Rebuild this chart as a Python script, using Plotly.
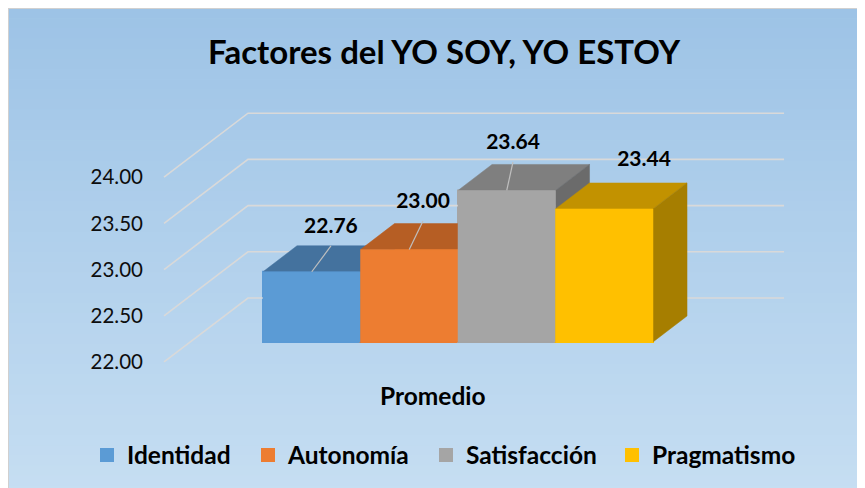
import plotly.graph_objects as go

# ---------------- data ----------------
chart_title = "Factores del YO SOY, YO ESTOY"
category = "Promedio"
series = ["Identidad", "Autonomía", "Satisfacción", "Pragmatismo"]
values = [22.76, 23.00, 23.64, 23.44]
value_labels = ["22.76", "23.00", "23.64", "23.44"]
tick_values = [22.0, 22.5, 23.0, 23.5, 24.0]
tick_labels = ["22.00", "22.50", "23.00", "23.50", "24.00"]

# ---------------- style ----------------
front_colors = ["#5B9BD5", "#ED7D31", "#A5A5A5", "#FFC000"]
top_colors = ["#44729E", "#B65E24", "#7F7F7F", "#C29200"]
side_colors = ["#3E6890", "#A5541F", "#6B6B6B", "#A67E00"]
legend_widths = [116, 133, 141, 146]
FONT = "Lato"

BASE = 22.0
HALF_W = 0.5
DEPTH_DX = 0.349      # bar depth, category units
DEPTH_DY = 0.2814     # bar depth, value units
WALL_FRONT_X = -1.515
WALL_FRONT_DY = -0.2165
WALL_BACK_X = -0.654
WALL_BACK_DY = 0.476
WALL_RIGHT_X = 4.844
# label placement relative to bar (category units, value units)
label_dx = [0.197, 0.141, 0.064, 0.408]
label_dy = [0.474, 0.510, 0.503, 0.524]
leader_dx = [0.197, 0.141, 0.064, None]
leader_dy = [0.279, 0.310, 0.308, None]

W, H = 865, 488
ML, MR, MT, MB = 142, 0, 52, 96
X_RANGE = [-1.659, -1.659 + (W - ML - MR) / 97.5]
Y_RANGE = [21.372, 25.052]


def px_x(px):
    return (px - ML) / (W - ML - MR)


def px_y(py):
    return (H - MB - py) / (H - MT - MB)


fig = go.Figure()

# base bars (front faces) - also provide the legend
for i, (name, v) in enumerate(zip(series, values)):
    fig.add_trace(go.Bar(
        x=[i], y=[v - BASE], base=BASE, width=2 * HALF_W, name=name,
        legendwidth=legend_widths[i],
        marker=dict(color=front_colors[i], line=dict(width=2, color=front_colors[i])),
        hoverinfo="skip"))

# walls' gridlines
gx, gy = [], []
for t in tick_values:
    gx += [WALL_FRONT_X, WALL_BACK_X, WALL_RIGHT_X, None]
    gy += [t + WALL_FRONT_DY, t + WALL_BACK_DY, t + WALL_BACK_DY, None]
fig.add_trace(go.Scatter(x=gx, y=gy, mode="lines", showlegend=False,
                         line=dict(color="#D9D9D9", width=1.6), hoverinfo="skip"))


def poly(xs, ys, color):
    fig.add_trace(go.Scatter(
        x=xs + [xs[0]], y=ys + [ys[0]], mode="lines", fill="toself",
        fillcolor=color, line=dict(color=color, width=0.5),
        showlegend=False, hoverinfo="skip"))


for i, v in enumerate(values):
    xl, xr = i - HALF_W, i + HALF_W
    poly([xl, xr, xr + DEPTH_DX, xl + DEPTH_DX],
         [v, v, v + DEPTH_DY, v + DEPTH_DY], top_colors[i])
    poly([xr, xr + DEPTH_DX, xr + DEPTH_DX, xr],
         [BASE, BASE + DEPTH_DY, v + DEPTH_DY, v], side_colors[i])
    poly([xl, xr, xr, xl], [BASE, BASE, v, v], front_colors[i])

# leader lines
lx, ly = [], []
for i, v in enumerate(values):
    if leader_dx[i] is not None:
        lx += [i, i + leader_dx[i], None]
        ly += [v, v + leader_dy[i], None]
fig.add_trace(go.Scatter(x=lx, y=ly, mode="lines", showlegend=False,
                         line=dict(color="#BFBFBF", width=1.2), hoverinfo="skip"))

# data labels
fig.add_trace(go.Scatter(
    x=[i + label_dx[i] for i in range(len(values))],
    y=[v + label_dy[i] for i, v in enumerate(values)],
    text=value_labels, mode="text", textposition="middle center",
    textfont=dict(family=FONT, size=21, color="#000000", weight="bold"),
    showlegend=False, hoverinfo="skip"))

# background gradient
shapes = []
N = 48
top_c = (157, 195, 230)
bot_c = (198, 222, 242)
y_top, y_bot = 0, H
for k in range(N):
    f = (k + 0.5) / N
    c = tuple(round(top_c[j] + (bot_c[j] - top_c[j]) * f) for j in range(3))
    ya = y_top + (y_bot - y_top) * k / N
    yb = y_top + (y_bot - y_top) * (k + 1) / N + 0.6
    shapes.append(dict(type="rect", xref="paper", yref="paper", layer="below",
                       x0=px_x(0), x1=px_x(W + 2), y0=px_y(yb), y1=px_y(ya),
                       fillcolor="rgb(%d,%d,%d)" % c, line=dict(width=0)))
shapes.append(dict(type="line", xref="paper", yref="paper", layer="below",
                   x0=px_x(0.5), x1=px_x(0.5), y0=px_y(H + 2), y1=px_y(0),
                   line=dict(color="#D0D0D0", width=1)))
shapes.append(dict(type="line", xref="paper", yref="paper", layer="below",
                   x0=px_x(0), x1=px_x(W + 2), y0=px_y(0.5), y1=px_y(0.5),
                   line=dict(color="#D0D0D0", width=1)))

fig.update_layout(
    width=W, height=H, autosize=False,
    margin=dict(l=ML, r=MR, t=MT, b=MB),
    paper_bgcolor="#BBD5EE", plot_bgcolor="rgba(0,0,0,0)",
    barmode="overlay", shapes=shapes,
    title=dict(text=chart_title, x=436 / W, xref="container", xanchor="center",
               y=1 - 44 / H, yref="container", yanchor="middle",
               font=dict(family=FONT, size=33, color="#000000", weight="bold")),
    xaxis=dict(range=X_RANGE, visible=False, fixedrange=True),
    yaxis=dict(range=Y_RANGE, showgrid=False, zeroline=False, showline=False,
               tickvals=[t + WALL_FRONT_DY for t in tick_values], ticktext=tick_labels,
               tickfont=dict(family=FONT, size=20.5, color="#0D0D0D"),
               ticks="", ticklabelstandoff=6, fixedrange=True),
    legend=dict(orientation="h", xref="container", yref="container",
                x=79 / W, xanchor="left", y=1 - 447 / H, yanchor="middle",
                bgcolor="rgba(0,0,0,0)",
                font=dict(family=FONT, size=24.5, color="#000000", weight="bold")),
    annotations=[dict(text=category, xref="paper", yref="paper",
                      x=px_x(424.5), y=px_y(387), showarrow=False,
                      xanchor="center", yanchor="middle",
                      font=dict(family=FONT, size=24.5, color="#000000", weight="bold"))],
    showlegend=True,
)

fig.write_html("out.html")
